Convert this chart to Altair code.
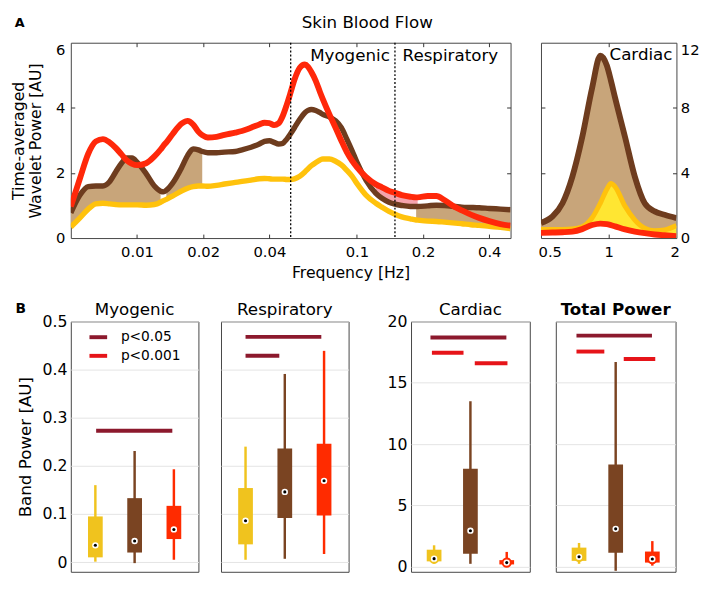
import altair as alt
import pandas as pd

FONT = "DejaVu Sans"

# ---------------- Panel A : time-averaged wavelet power ----------------
freq = [0.005, 0.0055, 0.006, 0.0065, 0.007, 0.0075, 0.008, 0.0085, 0.009, 0.0095,
        0.01, 0.011, 0.012, 0.0128, 0.0132, 0.0136, 0.0145, 0.016, 0.017, 0.018,
        0.019, 0.0198, 0.021, 0.023, 0.025, 0.028, 0.03, 0.033, 0.036, 0.038,
        0.04, 0.042, 0.044, 0.046, 0.048, 0.05, 0.052, 0.055, 0.058, 0.06,
        0.062, 0.065, 0.068, 0.07, 0.075, 0.08, 0.085, 0.09, 0.095, 0.1,
        0.11, 0.122, 0.13, 0.14, 0.149, 0.16, 0.175, 0.186, 0.189, 0.21,
        0.23, 0.25, 0.28, 0.3, 0.33, 0.36, 0.4, 0.45, 0.5]
power_ATH = [0.97, 1.83, 2.59, 2.97, 3.04, 2.94, 2.77, 2.57, 2.38, 2.28,
             2.24, 2.30, 2.51, 2.72, 2.84, 2.94, 3.19, 3.52, 3.60, 3.49,
             3.27, 3.16, 3.09, 3.11, 3.17, 3.24, 3.29, 3.39, 3.49, 3.54,
             3.53, 3.47, 3.52, 3.75, 4.10, 4.48, 4.86, 5.23, 5.33, 5.26,
             5.11, 4.83, 4.48, 4.27, 3.80, 3.39, 2.99, 2.64, 2.38, 2.18,
             1.88, 1.65, 1.56, 1.45, 1.39, 1.32, 1.27, 1.25, 1.25, 1.29,
             1.29, 1.17, 0.95, 0.85, 0.72, 0.62, 0.52, 0.43, 0.38]
power_A = [0.77, 1.32, 1.58, 1.60, 1.60, 1.73, 2.03, 2.30, 2.46, 2.46,
           2.33, 1.98, 1.60, 1.44, 1.42, 1.47, 1.68, 2.18, 2.54, 2.74,
           2.71, 2.66, 2.62, 2.62, 2.64, 2.66, 2.71, 2.79, 2.89, 2.97,
           2.99, 2.94, 2.89, 2.91, 3.04, 3.21, 3.39, 3.65, 3.85, 3.92,
           3.95, 3.92, 3.85, 3.80, 3.72, 3.60, 3.39, 3.04, 2.69, 2.33,
           1.78, 1.37, 1.22, 1.10, 1.04, 1.00, 0.97, 0.97, 0.97, 0.99,
           1.01, 1.00, 0.97, 0.95, 0.94, 0.93, 0.91, 0.89, 0.87]
power_Y = [0.34, 0.62, 0.89, 1.05, 1.07, 1.05, 1.03, 1.02, 1.02, 1.02,
           1.02, 1.01, 1.03, 1.10, 1.15, 1.19, 1.29, 1.45, 1.53, 1.58,
           1.60, 1.60, 1.59, 1.62, 1.66, 1.71, 1.74, 1.78, 1.82, 1.83,
           1.82, 1.81, 1.81, 1.81, 1.80, 1.80, 1.82, 1.90, 2.03, 2.13,
           2.22, 2.32, 2.40, 2.43, 2.43, 2.36, 2.25, 2.08, 1.90, 1.68,
           1.32, 1.07, 0.95, 0.82, 0.73, 0.65, 0.59, 0.555, 0.55, 0.52,
           0.51, 0.49, 0.46, 0.44, 0.41, 0.39, 0.36, 0.33, 0.29]

# significant-difference bands (Hz)
tan_ranges = [(0.005, 0.0128), (0.0136, 0.0198), (0.186, 0.5)]   # A vs Y
pink_ranges = [(0.122, 0.189)]                                     # ATH vs A
band_edges = [0.05, 0.149]

card_freq = [0.5, 0.563, 0.623, 0.689, 0.762, 0.843, 0.918, 0.981, 1.022, 1.068,
             1.182, 1.307, 1.446, 1.601, 1.771, 2.0]
card_A = [0.93, 1.33, 2.14, 3.76, 6.18, 9.2, 11.2, 10.6, 9.7, 8.6,
          6.2, 3.76, 2.14, 1.64, 1.43, 1.23]
card_Y = [0.53, 0.53, 0.53, 0.56, 0.69, 1.23, 2.15, 3.0, 3.35, 3.15,
          1.95, 1.1, 0.6, 0.45, 0.5, 0.77]
card_ATH = [0.32, 0.34, 0.36, 0.40, 0.55, 0.80, 0.89, 0.86, 0.80, 0.72,
            0.53, 0.40, 0.30, 0.22, 0.17, 0.12]

title_A = "Skin Blood Flow"

# ---------------- Panel B : band powers ----------------
groups = ["Y", "A", "ATH"]
bands = ["Myogenic", "Respiratory", "Cardiac", "Total Power"]
box_low = {"Myogenic": [0.001, -0.002, 0.005], "Respiratory": [0.005, 0.007, 0.017],
           "Cardiac": [0.25, 0.25, 0.08], "Total Power": [0.25, -0.32, 0.1]}
box_q1 = {"Myogenic": [0.010, 0.020, 0.048], "Respiratory": [0.037, 0.092, 0.097],
          "Cardiac": [0.45, 1.08, 0.20], "Total Power": [0.49, 1.15, 0.35]}
box_med = {"Myogenic": [0.035, 0.044, 0.068], "Respiratory": [0.086, 0.146, 0.169],
           "Cardiac": [0.67, 2.95, 0.35], "Total Power": [0.82, 3.10, 0.64]}
box_q3 = {"Myogenic": [0.095, 0.133, 0.117], "Respiratory": [0.154, 0.236, 0.246],
          "Cardiac": [1.40, 8.00, 0.55], "Total Power": [1.57, 8.35, 1.25]}
box_high = {"Myogenic": [0.160, 0.231, 0.193], "Respiratory": [0.240, 0.391, 0.439],
            "Cardiac": [1.76, 13.5, 1.22], "Total Power": [1.95, 16.7, 2.10]}

levels = ["p<0.05", "p<0.001"]
sig_band = ["Myogenic", "Respiratory", "Respiratory", "Cardiac", "Cardiac", "Cardiac",
            "Total Power", "Total Power", "Total Power"]
sig_from = [0.02, 0.0, 0.0, -0.10, -0.06, 1.12, -0.07, -0.07, 1.22]
sig_to = [1.96, 1.93, 0.86, 1.99, 0.81, 2.02, 1.99, 0.69, 2.08]
sig_value = [0.273, 0.468, 0.429, 18.7, 17.45, 16.6, 18.85, 17.55, 16.95]
sig_level = ["p<0.05", "p<0.05", "p<0.05", "p<0.05", "p<0.001", "p<0.001",
             "p<0.05", "p<0.001", "p<0.001"]

# ---------------- styles ----------------
C_Y, C_A, C_ATH = "#FFC20C", "#6E3C1E", "#FF280A"
C_TAN, C_PINK, C_YFILL = "#C8A57A", "#F5A3AC", "#FFE632"
BOX_COLORS = ["#F0C31E", "#7A4422", "#FF2B00"]
LEVEL_COLORS = ["#8C192D", "#E61419"]


def txt(s, x, y, size=17, weight="normal", align="center", baseline="middle"):
    return alt.Chart(pd.DataFrame({"t": [s]})).mark_text(
        font=FONT, fontSize=size, fontWeight=weight, align=align,
        baseline=baseline, color="black").encode(
        text="t:N", x=alt.value(x), y=alt.value(y))


def tick_layers(data, xf, yf, xs, ys, xvals, yvals, W, H, size=4):
    common = dict(domain=False, labels=False, grid=False, ticks=True,
                  tickSize=size, tickColor="#333333", tickWidth=1, title=None)
    out = []
    for xo, yo in (("top", "right"), ("bottom", "left")):
        xax = alt.Axis(orient=xo, offset=-H, values=xvals, **common) if xvals else None
        yax = alt.Axis(orient=yo, offset=-W, values=yvals, **common)
        out.append(alt.Chart(data).mark_point(opacity=0).encode(
            x=alt.X(xf, type="quantitative", scale=xs, axis=xax),
            y=alt.Y(yf, type="quantitative", scale=ys, axis=yax)))
    return out


def segments(df, ranges):
    parts = []
    for i, (a, b) in enumerate(ranges):
        p = df[(df.f >= a * 0.9999) & (df.f <= b * 1.0001)].copy()
        p["seg"] = i
        parts.append(p)
    return pd.concat(parts)


# ---------------- Panel A main ----------------
W_A, H_A = 448, 199
dfA = pd.DataFrame({"f": freq, "Y": power_Y, "A": power_A, "ATH": power_ATH})
xA_scale = alt.Scale(type="log", domain=[0.005, 0.5], nice=False)
yA_scale = alt.Scale(domain=[0, 6], nice=False, zero=False)
xA_axis = alt.Axis(values=[0.01, 0.02, 0.04, 0.1, 0.2, 0.4], format="~g",
                   labelFontSize=15, labelPadding=7, ticks=False, domain=False,
                   grid=False, title="Frequency [Hz]", titleFontSize=16,
                   titleFontWeight="normal", titleX=285, titleY=27,
                   titleBaseline="top")
yA_axis = alt.Axis(values=[0, 2, 4, 6], labelFontSize=15, labelPadding=6,
                   ticks=False, domain=False, grid=False,
                   title=["Time-averaged", "Wavelet Power [AU]"],
                   titleFontSize=16, titleFontWeight="normal", titleLineHeight=17,
                   titleX=-53, titleBaseline="middle",
                   labelBaseline={"condition": {"test": "datum.value == 6", "value": "top"},
                                  "value": "middle"})
xA = alt.X("f:Q", scale=xA_scale, axis=xA_axis)


def yA(field):
    return alt.Y(f"{field}:Q", scale=yA_scale, axis=yA_axis)


tanA = alt.Chart(segments(dfA, tan_ranges)).mark_area(
    color=C_TAN, interpolate="monotone", clip=True).encode(
    x=xA, y=yA("A"), y2="Y:Q", detail="seg:N")
pinkA = alt.Chart(segments(dfA, pink_ranges)).mark_area(
    color=C_PINK, interpolate="monotone", clip=True).encode(
    x=xA, y=yA("ATH"), y2="A:Q", detail="seg:N")
lines_A = [
    alt.Chart(dfA).mark_line(color=col, strokeWidth=w, interpolate="monotone",
                             clip=True, strokeJoin="round").encode(x=xA, y=yA(fld))
    for fld, col, w in (("Y", C_Y, 5.5), ("A", C_A, 5.5), ("ATH", C_ATH, 6))
]
edges = alt.Chart(pd.DataFrame({"f": band_edges})).mark_rule(
    color="black", strokeDash=[2, 2], strokeWidth=1.3).encode(x=alt.X("f:Q", scale=xA_scale, axis=xA_axis))

baseA = alt.layer(
    tanA, pinkA, *lines_A, edges,
    txt("Myogenic", 325, 13.5, align="right"),
    txt("Respiratory", 338, 13.5, align="left"),
    txt(title_A, 302, -20),
    txt("A", -52, -20, size=13, weight="bold"),
)
mainA = alt.layer(
    baseA,
    *tick_layers(dfA, "f", "Y", xA_scale, yA_scale, [0.01, 0.02, 0.04, 0.1, 0.2, 0.4],
                 [2, 4], W_A, H_A),
).resolve_axis(x="independent", y="independent").properties(width=W_A, height=H_A)

# ---------------- Panel A cardiac ----------------
W_C = 138
dfC = pd.DataFrame({"f": card_freq, "Y": card_Y, "A": card_A, "ATH": card_ATH})
xC_scale = alt.Scale(type="log", domain=[0.5, 2], nice=False)
yC_scale = alt.Scale(domain=[0, 12], nice=False, zero=False)
xC_axis = alt.Axis(values=[0.5, 1, 2], format="~g", labelFontSize=15, labelPadding=7,
                   ticks=False, domain=False, grid=False, labelFlush=True,
                   labelFlushOffset=3, title=None)
yC_axis = alt.Axis(orient="right", values=[0, 4, 8, 12], labelFontSize=15,
                   labelPadding=4, ticks=False, domain=False, grid=False, title=None,
                   labelBaseline={"condition": {"test": "datum.value == 12", "value": "top"},
                                  "value": "middle"})
xC = alt.X("f:Q", scale=xC_scale, axis=xC_axis)


def yC(field):
    return alt.Y(f"{field}:Q", scale=yC_scale, axis=yC_axis)


tanC = alt.Chart(dfC).mark_area(color=C_TAN, interpolate="monotone", clip=True).encode(
    x=xC, y=yC("A"), y2="ATH:Q")
yfillC = alt.Chart(dfC).mark_area(color=C_YFILL, interpolate="monotone", clip=True).encode(
    x=xC, y=yC("Y"), y2="ATH:Q")
lines_C = [
    alt.Chart(dfC).mark_line(color=col, strokeWidth=w, interpolate="monotone",
                             clip=True, strokeJoin="round").encode(x=xC, y=yC(fld))
    for fld, col, w in (("Y", C_Y, 5), ("A", C_A, 6), ("ATH", C_ATH, 6))
]
baseC = alt.layer(tanC, yfillC, *lines_C, txt("Cardiac", 134, 12.5, align="right"))
cardA = alt.layer(
    baseC,
    *tick_layers(dfC, "f", "Y", xC_scale, yC_scale, [1], [4, 8], W_C, H_A),
).resolve_axis(x="independent", y="independent").properties(width=W_C, height=H_A)

# ---------------- Panel B ----------------
H_B = 255
label_expr = " : ".join(f"datum.value == {i} ? '{g}'" for i, g in enumerate(groups[:-1])) + f" : '{groups[-1]}'"
sig_df = pd.DataFrame({"band": sig_band, "x1": sig_from, "x2": sig_to, "v": sig_value,
                       "level": sig_level})


def band_panel(band, width, ydom, yvals, show_labels, ytitle=None, bold=False,
               legend=False, letter=None):
    d = pd.DataFrame({"pos": list(range(len(groups))), "grp": groups,
                      "low": box_low[band], "q1": box_q1[band], "med": box_med[band],
                      "q3": box_q3[band], "high": box_high[band]})
    xs = alt.Scale(domain=[-0.5, 2.5], nice=False, zero=False)
    ys = alt.Scale(domain=ydom, nice=False, zero=False)
    x = alt.X("pos:Q", scale=xs, axis=alt.Axis(
        values=[0, 1, 2], labelExpr=label_expr, ticks=False, domain=False, grid=False,
        labelFontSize=16, labelPadding=7, title=None))
    yax = alt.Axis(values=yvals, grid=True, gridColor="#E3E3E3", gridWidth=1,
                   ticks=False, domain=False, labels=show_labels, format="~g",
                   labelFontSize=16, labelPadding=4,
                   title=ytitle if ytitle else None, titleFontSize=17,
                   titleFontWeight="normal", titleX=-46, titleBaseline="middle")
    col = alt.Color("grp:N", scale=alt.Scale(domain=groups, range=BOX_COLORS), legend=None)
    strk = alt.Stroke("grp:N", scale=alt.Scale(domain=groups, range=BOX_COLORS), legend=None)
    whisk = alt.Chart(d).mark_rule(strokeWidth=2.5).encode(
        x=x, y=alt.Y("low:Q", scale=ys, axis=yax), y2="high:Q", color=col)
    box = alt.Chart(d).mark_bar(size=15).encode(
        x=x, y=alt.Y("q1:Q", scale=ys, axis=yax), y2="q3:Q", color=col)
    med = alt.Chart(d).mark_point(shape="circle", fill="white", fillOpacity=1, opacity=1,
                                  size=72, strokeWidth=2).encode(
        x=x, y=alt.Y("med:Q", scale=ys, axis=yax), stroke=strk)
    dot = alt.Chart(d).mark_point(shape="circle", filled=True, color="black", opacity=1,
                                  size=10).encode(x=x, y=alt.Y("med:Q", scale=ys, axis=yax))
    layers = [whisk, box, med, dot]
    sd = sig_df[sig_df.band == band]
    for lev, lc in zip(levels, LEVEL_COLORS):
        part = sd[sd.level == lev]
        if len(part):
            layers.append(alt.Chart(part).mark_rule(color=lc, strokeWidth=4, strokeCap="butt").encode(
                x=alt.X("x1:Q", scale=xs, axis=None), x2="x2:Q",
                y=alt.Y("v:Q", scale=ys, axis=yax)))
    if legend:
        for i, (lev, lc) in enumerate(zip(levels, LEVEL_COLORS)):
            yy = 16 + 19 * i
            layers.append(alt.Chart(pd.DataFrame({"t": [lev]})).mark_rule(
                color=lc, strokeWidth=4).encode(x=alt.value(19), x2=alt.value(37), y=alt.value(yy)))
            layers.append(txt(lev, 51, yy, size=14, align="left"))
    layers.append(txt(band, width / 2, -7, size=17, weight="bold" if bold else "normal",
                      baseline="alphabetic"))
    if letter:
        layers.append(txt(letter, -51, -13, size=14, weight="bold"))
    return alt.layer(*layers).properties(width=width, height=H_B)


myo = band_panel("Myogenic", 130, [-0.02, 0.5], [0, 0.1, 0.2, 0.3, 0.4, 0.5], True,
                 ytitle="Band Power [AU]", legend=True, letter="B")
resp = band_panel("Respiratory", 130, [-0.02, 0.5], [0, 0.1, 0.2, 0.3, 0.4, 0.5], False)
cardB = band_panel("Cardiac", 121, [-0.4, 20], [0, 5, 10, 15, 20], True)
tot = band_panel("Total Power", 122, [-0.4, 20], [0, 5, 10, 15, 20], False, bold=True)

top = alt.hconcat(mainA, cardA, spacing=23)
bottom = alt.hconcat(alt.hconcat(myo, resp, spacing=21),
                     alt.hconcat(cardB, tot, spacing=24.5), spacing=37.6)

chart = alt.vconcat(top, bottom, spacing=19).properties(
    padding={"left": 2, "top": 0, "right": 0, "bottom": 0}
).configure_view(stroke="#444444", strokeWidth=1).configure_axis(
    labelFont=FONT, titleFont=FONT, labelColor="black", titleColor="black")

chart.save("out.html", embed_options={"renderer": "svg", "actions": False})
